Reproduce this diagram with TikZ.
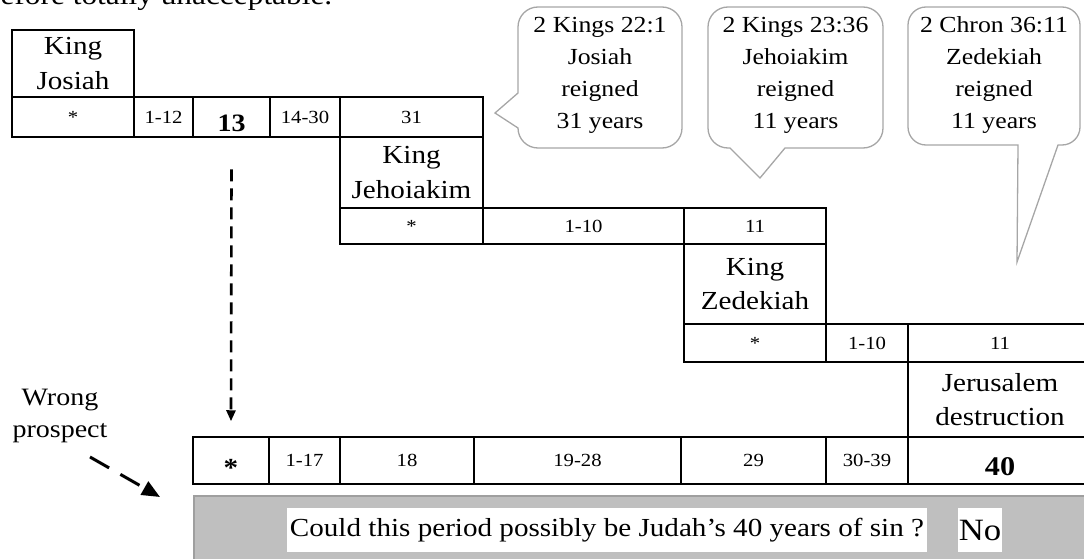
\documentclass[tikz,border=0pt]{standalone}
\usepackage{fontspec}
\setmainfont{Liberation Serif}[FakeStretch=1.12]
\usetikzlibrary{arrows.meta}
\definecolor{bubblegray}{HTML}{A6A6A6}
\definecolor{bandgray}{HTML}{BFBFBF}
\definecolor{bandedge}{HTML}{9F9F9F}

\begin{document}
\begin{tikzpicture}[x=1pt,y=-1pt,
	cell/.style={draw, line width=1.5pt, inner sep=0pt, font=\fontsize{18.5}{22}\selectfont},
	king/.style={cell, align=center, font=\fontsize{26}{34.5}\selectfont},
	bubble/.style={draw=bubblegray, line width=1.3pt},
	said/.style={align=center, font=\fontsize{23}{32}\selectfont},
	dasharrow/.style={line width=2.6pt, dash pattern=on 12pt off 7pt, -{Triangle[length=11pt,width=9pt]}}]
	\useasboundingbox (0,0) rectangle (1084,559);
	%cut-off line above
		\node[anchor=base west, font=\fontsize{28}{30}\selectfont] (topline) at (-3,5) {efore totally unacceptable.};
	%Josiah row
		\node[king, minimum width=122pt, minimum height=67pt] (kjos) at (73,63.5) {King\\Josiah};
		\node[cell, minimum width=122pt, minimum height=40pt] (j0) at (73,117) {*};
		\node[cell, minimum width=59pt, minimum height=40pt] (j1) at (163.5,117) {1-12};
		\node[cell, minimum width=70pt, minimum height=40pt] (j3) at (305,117) {14-30};
		\node[cell, minimum width=143pt, minimum height=40pt] (j4) at (411.5,117) {31};
		\node[cell, line width=2.8pt, minimum width=77pt, minimum height=40pt, font=\fontsize{25}{28}\selectfont\bfseries, text height=29pt, text depth=0pt] (j2) at (231.5,117) {13};
	%Jehoiakim row
		\node[king, minimum width=143pt, minimum height=71pt] (kjeh) at (411.5,172.5) {King\\Jehoiakim};
		\node[cell, minimum width=143pt, minimum height=36pt] (h0) at (411.5,226) {*};
		\node[cell, minimum width=201pt, minimum height=36pt] (h1) at (583.5,226) {1-10};
		\node[cell, minimum width=142pt, minimum height=36pt] (h2) at (755,226) {11};
	%Zedekiah row
		\node[king, minimum width=142pt, minimum height=80pt] (kzed) at (755,284) {King\\Zedekiah};
		\node[cell, minimum width=142pt, minimum height=38pt] (z0) at (755,343) {*};
		\node[cell, minimum width=82pt, minimum height=38pt] (z1) at (867,343) {1-10};
		\node[cell, minimum width=184pt, minimum height=38pt] (z2) at (1000,343) {11};
		\node[king, minimum width=184pt, minimum height=75pt] (jeru) at (1000,399.5) {Jerusalem\\destruction};
	%the forty years row
		\node[cell, minimum width=76pt, minimum height=47pt, font=\fontsize{26}{28}\selectfont\bfseries, text height=31pt, text depth=0pt] (b0) at (231,460.5) {*};
		\node[cell, minimum width=71pt, minimum height=47pt] (b1) at (304.5,460.5) {1-17};
		\node[cell, minimum width=134pt, minimum height=47pt] (b2) at (407,460.5) {18};
		\node[cell, minimum width=207pt, minimum height=47pt] (b3) at (577.5,460.5) {19-28};
		\node[cell, minimum width=145pt, minimum height=47pt] (b4) at (753.5,460.5) {29};
		\node[cell, minimum width=82pt, minimum height=47pt] (b5) at (867,460.5) {30-39};
		\node[cell, minimum width=184pt, minimum height=47pt, font=\fontsize{27}{30}\selectfont\bfseries, text height=29pt, text depth=0pt] (b6) at (1000,460.5) {40};
	%speech bubbles
		\draw[bubble] (495,113) -- (518,93) [rounded corners=20pt] -- (518,7) -- (682,7) -- (682,148) -- (518,148) [sharp corners] -- (518,128) -- cycle;
		\draw[bubble] (760,178) -- (785,148) [rounded corners=20pt] -- (883,148) -- (883,7) -- (708,7) -- (708,148) [sharp corners] -- (730,148) -- cycle;
		\draw[bubble] (1017,262) -- (1058,145) [rounded corners=18pt] -- (1080,145) -- (1080,7) -- (908,7) -- (908,145) [sharp corners] -- (1018,145) -- cycle;
		\node[said] (saysjos) at (600,75) {2 Kings 22:1\\Josiah\\reigned\\31 years};
		\node[said] (saysjeh) at (795.5,75) {2 Kings 23:36\\Jehoiakim\\reigned\\11 years};
		\node[said] (sayszed) at (994,75) {2 Chron 36:11\\Zedekiah\\reigned\\11 years};
	%13 carried down
		\draw[dasharrow] ([yshift=-31pt]j2.south) -- ([yshift=15pt]b0.north);
	%wrong prospect
		\node[align=center, font=\fontsize{25}{32}\selectfont] (wrong) at (60,416) {Wrong\\prospect};
		\coordinate (wfrom) at (90,457);
		\coordinate (wto) at (160,497);
		\draw[line width=3pt, dash pattern=on 22pt off 13pt, -{Triangle[length=18pt,width=15pt]}] (wfrom) -- (wto);
	%question band
		\node[draw=bandedge, fill=bandgray, line width=1.5pt, minimum width=910pt, minimum height=80pt, anchor=north west, inner sep=0pt] (band) at (193,495) {};
		\node[fill=white, minimum height=44pt, inner xsep=3pt, inner ysep=0pt, font=\fontsize{26}{30}\selectfont] (ask) at (607,530) {Could this period possibly be Judah's 40 years of sin ?};
		\node[fill=white, minimum height=44pt, inner xsep=1pt, inner ysep=0pt, font=\fontsize{31}{34}\selectfont] (no) at (980,530) {No};
\end{tikzpicture}
\end{document}
